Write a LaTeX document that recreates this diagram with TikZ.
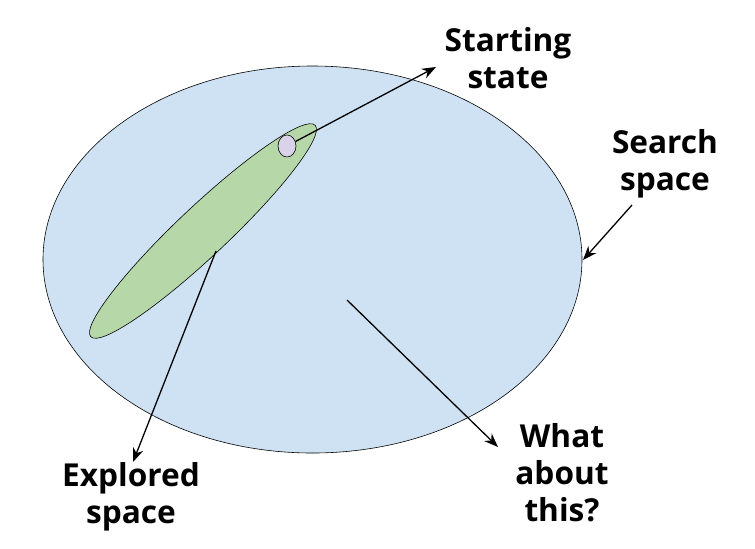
\documentclass[tikz,border=0pt]{standalone}
\usepackage{fontspec}
\setmainfont{Open Sans}
\usetikzlibrary{positioning,shapes.geometric,arrows.meta}
\definecolor{spacefill}{HTML}{CFE2F3}
\definecolor{explfill}{HTML}{B6D7A8}
\definecolor{startfill}{HTML}{D9D2E9}

\begin{document}
\begin{tikzpicture}[x=0.03cm,y=-0.03cm,
  every node/.style={align=center},
  region/.style={ellipse,draw=black,line width=0.5pt,inner sep=0pt},
  label/.style={font=\fontsize{27}{31.5}\selectfont\bfseries,inner sep=0pt},
  arr/.style={-{Stealth[length=4.2mm,width=3.2mm]},line width=1.1pt},
]
\useasboundingbox (0,0) rectangle (755,548);
\node[region,fill=spacefill,minimum width=161.7mm,minimum height=116.1mm] (space) at (312.5,259.5) {};
\node[region,fill=explfill,minimum width=92.5mm,minimum height=15mm,rotate=43.3] (expl) at (203,231) {};
\node[region,fill=startfill,minimum width=5.4mm,minimum height=6.6mm] (start) at (287,146) {};

\node[label] (lstart) at (508,58) {Starting\\state};
\node[label] (lspace) at (665,164) {Search\\space};
\node[label] (lexpl) at (131,497) {Explored\\space};
\node[label] (lwhat) at (562,473) {What\\about\\this?};

\coordinate (tstart) at (436,67);
\coordinate (fspace) at (632,205);
\coordinate (tspace) at (583,260);
\coordinate (fexpl) at (216,251);
\coordinate (texpl) at (133,462);
\coordinate (fwhat) at (347,300);
\coordinate (twhat) at (498,447);

\draw[arr] (start) -- (tstart);
\draw[arr] (fspace) -- (tspace);
\draw[arr] (fexpl) -- (texpl);
\draw[arr] (fwhat) -- (twhat);
\end{tikzpicture}
\end{document}
